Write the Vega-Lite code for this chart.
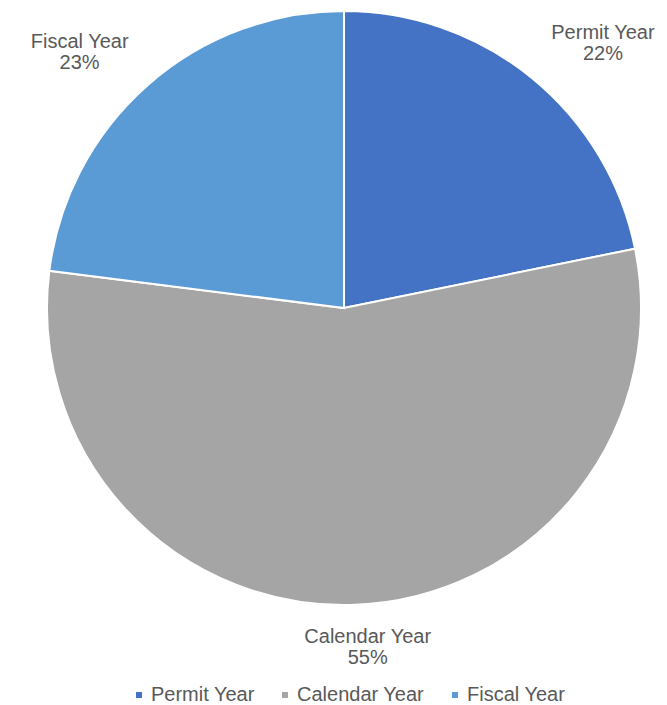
{
  "$schema": "https://vega.github.io/schema/vega-lite/v6.json",
  "width": 688,
  "height": 616,
  "padding": {"top": 0, "left": 0, "right": 0, "bottom": 89},
  "autosize": {"type": "none"},
  "background": "white",
  "config": {
    "view": {"stroke": null},
    "font": "Liberation Sans",
    "legend": {
      "orient": "none",
      "legendX": 129,
      "legendY": 685,
      "padding": 0,
      "direction": "horizontal",
      "title": null,
      "symbolType": "square",
      "symbolSize": 36,
      "symbolStrokeWidth": 0,
      "labelFont": "Liberation Sans",
      "labelFontSize": 20,
      "labelColor": "#595959",
      "labelOffset": 2,
      "columnPadding": 20
    }
  },
  "data": {
    "values": [
      {"category": "Permit Year", "value": 21.8, "order": 1},
      {"category": "Calendar Year", "value": 55.2, "order": 2},
      {"category": "Fiscal Year", "value": 23.0, "order": 3}
    ]
  },
  "transform": [
    {"calculate": "datum.category + '\\n' + format(datum.value, '.0f') + '%'", "as": "label"}
  ],
  "encoding": {
    "theta": {"field": "value", "type": "quantitative", "stack": true},
    "order": {"field": "order", "type": "quantitative"}
  },
  "layer": [
    {
      "mark": {"type": "arc", "outerRadius": 297, "stroke": "white", "strokeWidth": 2},
      "encoding": {
        "color": {
          "field": "category",
          "type": "nominal",
          "scale": {
            "domain": ["Permit Year", "Calendar Year", "Fiscal Year"],
            "range": ["#4472C4", "#A5A5A5", "#5B9BD5"]
          },
          "legend": {"title": null}
        }
      }
    },
    {
      "mark": {"type": "text", "radius": 373, "dx": 23, "dy": 14, "fontSize": 20, "fill": "#595959", "lineBreak": "\n", "lineHeight": 21, "align": "center", "baseline": "middle"},
      "encoding": {
        "text": {"condition": {"test": "datum.category === 'Permit Year'", "field": "label"}, "value": ""}
      }
    },
    {
      "mark": {"type": "text", "radius": 368, "dx": -21, "dy": 10, "fontSize": 20, "fill": "#595959", "lineBreak": "\n", "lineHeight": 21, "align": "center", "baseline": "middle"},
      "encoding": {
        "text": {"condition": {"test": "datum.category === 'Fiscal Year'", "field": "label"}, "value": ""}
      }
    },
    {
      "mark": {"type": "text", "radius": 337, "dx": 11, "dy": -8, "fontSize": 20, "fill": "#595959", "lineBreak": "\n", "lineHeight": 21, "align": "center", "baseline": "middle"},
      "encoding": {
        "text": {"condition": {"test": "datum.category === 'Calendar Year'", "field": "label"}, "value": ""}
      }
    }
  ]
}
